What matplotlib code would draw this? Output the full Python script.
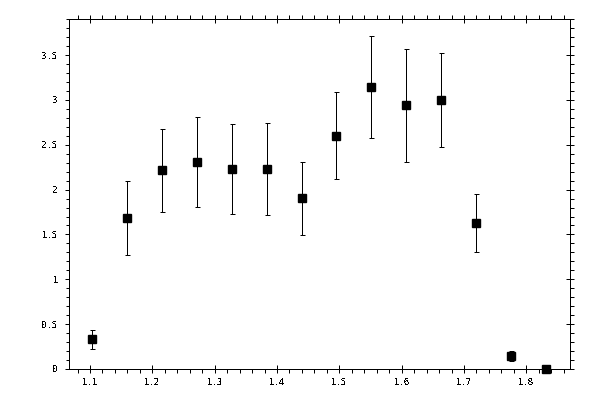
import matplotlib
matplotlib.use('Agg')
import matplotlib.pyplot as plt
from matplotlib.ticker import MultipleLocator

# values
x = [1.104, 1.160, 1.216, 1.272, 1.328, 1.384, 1.440,
     1.495, 1.551, 1.607, 1.663, 1.719, 1.776, 1.832]
y = [0.331, 1.680, 2.215, 2.304, 2.226, 2.226, 1.903,
     2.594, 3.140, 2.940, 2.996, 1.624, 0.141, 0.0]
y_hi = [0.43, 2.092, 2.679, 2.806, 2.728, 2.746, 2.31,
        3.085, 3.709, 3.571, 3.527, 1.954, 0.197, 0.0]
y_lo = [0.22, 1.268, 1.747, 1.803, 1.725, 1.713, 1.491,
        2.115, 2.572, 2.304, 2.472, 1.304, 0.086, 0.0]

x_ticks = [1.1, 1.2, 1.3, 1.4, 1.5, 1.6, 1.7, 1.8]
x_labels = ['1.1', '1.2', '1.3', '1.4', '1.5', '1.6', '1.7', '1.8']
y_ticks = [0, 0.5, 1, 1.5, 2, 2.5, 3, 3.5]
y_labels = ['0', '0.5', '1', '1.5', '2', '2.5', '3', '3.5']

lw = 0.72  # one pixel at 100 dpi

plt.rcParams['lines.antialiased'] = False
plt.rcParams['text.antialiased'] = False
plt.rcParams['patch.antialiased'] = False
plt.rcParams['font.family'] = 'DejaVu Sans Mono'
plt.rcParams['font.size'] = 6.5

fig = plt.figure(figsize=(6, 4), dpi=100)
ax = fig.add_axes([0.115, 0.0775, 0.835, 0.875])

err_lo = [v - l for v, l in zip(y, y_lo)]
err_hi = [h - v for v, h in zip(y, y_hi)]
ax.errorbar(x, y, yerr=[err_lo, err_hi], fmt='s', color='black',
            markersize=5.3, elinewidth=lw, capsize=1.8, capthick=lw,
            clip_on=False, zorder=3)

ax.set_xlim(1.0663, 1.8701)
ax.set_ylim(0, 3.902)
ax.set_xticks(x_ticks)
ax.set_xticklabels(x_labels)
ax.set_yticks(y_ticks)
ax.set_yticklabels(y_labels)
ax.xaxis.set_minor_locator(MultipleLocator(0.02))
ax.yaxis.set_minor_locator(MultipleLocator(0.1))

for sp in ax.spines.values():
    sp.set_linewidth(lw)

ax.tick_params(axis='x', which='major', direction='inout', length=5.5,
               width=lw, top=True, bottom=True, pad=4)
ax.tick_params(axis='x', which='minor', direction='out', length=2.8,
               width=lw, top=True, bottom=True)
ax.tick_params(axis='y', which='major', direction='out', length=3,
               width=lw, left=True, right=False, pad=5)
ax.tick_params(axis='y', which='minor', direction='out', length=2.5,
               width=lw, left=True, right=False)

# right-hand ticks (no labels)
ax2 = ax.twinx()
ax2.set_ylim(ax.get_ylim())
ax2.set_yticks(y_ticks)
ax2.yaxis.set_minor_locator(MultipleLocator(0.1))
ax2.tick_params(axis='y', which='major', direction='inout', length=5.5,
                width=lw, labelright=False)
ax2.tick_params(axis='y', which='minor', direction='out', length=2.8,
                width=lw)
for sp in ax2.spines.values():
    sp.set_linewidth(lw)

fig.savefig('out.png', dpi=100)
